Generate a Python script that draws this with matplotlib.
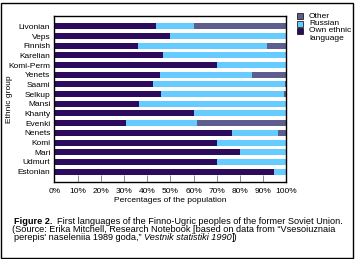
import matplotlib
matplotlib.use("Agg")
import matplotlib.pyplot as plt
from matplotlib.patches import Rectangle
import numpy as np

plt.rcParams['font.family'] = ['Liberation Sans', 'DejaVu Sans']

groups = ["Livonian", "Veps", "Finnish", "Karelian", "Komi-Perm", "Yenets", "Saami",
          "Selkup", "Mansi", "Khanty", "Evenki", "Nenets", "Komi", "Mari", "Udmurt", "Estonian"]
own = [44, 50, 36, 47, 70, 45.5, 42.5, 46, 36.5, 60, 31, 76.5, 70, 80, 70, 94.5]
russian = [16, 50, 55.5, 53, 30, 39.5, 57, 53, 63.5, 40, 30.5, 20, 30, 20, 30, 5.5]
other = [40, 0, 8.5, 0, 0, 15, 0.5, 1, 0, 0, 38.5, 3.5, 0, 0, 0, 0]
xticks = list(range(0, 101, 10))
xticklabels = [f"{v}%" for v in xticks]

c_own = "#2c0b5c"
c_rus = "#66ccff"
c_oth = "#5e5e8e"

W, H = 355, 259
fig = plt.figure(figsize=(W / 100, H / 100), dpi=100)
fig.patch.set_facecolor("white")

ax = fig.add_axes([54.5 / W, 1 - 182 / H, (286.3 - 54.5) / W, (182 - 15.7) / H])
n = len(groups)
y = np.arange(n)[::-1]
own_a = np.array(own)
rus_a = np.array(russian)
oth_a = np.array(other)
bh = 0.62
ax.barh(y, own_a, height=bh, color=c_own, linewidth=0)
ax.barh(y, rus_a, left=own_a, height=bh, color=c_rus, linewidth=0)
ax.barh(y, oth_a, left=own_a + rus_a, height=bh, color=c_oth, linewidth=0)

fs = 6.0
ax.set_xlim(0, 100)
ax.set_ylim(-1.08, n - 1 + 1.1)
ax.set_yticks(y)
ax.set_yticklabels(groups, fontsize=fs)
ax.tick_params(axis='y', length=0, pad=3)
ax.set_xticks(xticks)
ax.set_xticklabels(xticklabels, fontsize=fs)
ax.tick_params(axis='x', direction='in', length=5, width=0.6, color='#777777', pad=4)
for s in ax.spines.values():
    s.set_linewidth(1.0)
    s.set_color('black')
ax.set_xlabel("Percentages of the population", fontsize=fs, labelpad=2)
ax.set_ylabel("Ethnic group", fontsize=fs)
ax.yaxis.set_label_coords((13 - 54.5) / (286.3 - 54.5), 0.5)

# legend
items = [("Other", c_oth, 16), ("Russian", c_rus, 23.5), ("Own ethnic", c_own, 30.7)]
for lab, col, yy in items:
    fig.add_artist(Rectangle((297 / W, 1 - (yy + 3) / H), 6 / W, 6 / H,
                             transform=fig.transFigure, facecolor=col,
                             edgecolor='black', linewidth=0.5))
    fig.text(309 / W, 1 - yy / H, lab, fontsize=fs, va='center', ha='left')
fig.text(309 / W, 1 - 39 / H, "language", fontsize=fs, va='center', ha='left')

# caption
cfs = 6.6
t1 = fig.text(14 / W, 1 - 222 / H, "Figure 2.", fontsize=cfs, fontweight='bold', va='center')
fig.add_artist(plt.Annotation("  First languages of the Finno-Ugric peoples of the former Soviet Union.",
                              xy=(1, 0.5), xycoords=t1, va='center', ha='left', fontsize=cfs))
fig.text(12 / W, 1 - 229.5 / H,
         "(Source: Erika Mitchell, Research Notebook [based on data from \u201cVsesoiuznaia",
         fontsize=cfs, va='center')
t3 = fig.text(14 / W, 1 - 237 / H, "perepis' naseleniia 1989 goda,\u201d ", fontsize=cfs, va='center')
t4 = fig.add_artist(plt.Annotation("Vestnik statistiki 1990", xy=(1, 0.5), xycoords=t3,
                                   va='center', ha='left', fontsize=cfs, style='italic'))
fig.add_artist(plt.Annotation("])", xy=(1, 0.5), xycoords=t4, va='center', ha='left', fontsize=cfs))

# border
fig.add_artist(Rectangle((1.5 / W, 1.5 / H), (W - 4) / W, (H - 4) / H, transform=fig.transFigure,
                         fill=False, edgecolor='black', linewidth=1.0))

fig.savefig("out.png", dpi=100)
